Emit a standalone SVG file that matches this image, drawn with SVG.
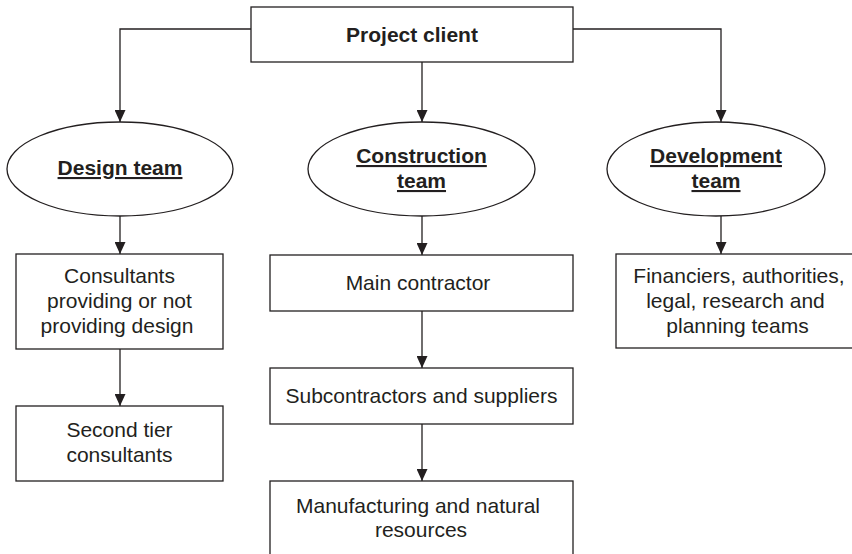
<svg xmlns="http://www.w3.org/2000/svg" width="852" height="554" viewBox="0 0 852 554">
<style>
  .box{fill:#fff;stroke:#231f20;stroke-width:1.3}
  .ell{fill:#fff;stroke:#231f20;stroke-width:1.3}
  .t{font-family:"Liberation Sans",Arial,Helvetica,sans-serif;font-size:21px;fill:#231f20;text-anchor:middle}
  .b{font-weight:bold}
  .u{text-decoration:underline}
  .c{fill:none;stroke:#231f20;stroke-width:1.3;marker-end:url(#ah)}
</style>
<defs>
  <marker id="ah" viewBox="0 0 12 11" markerWidth="12" markerHeight="11" refX="12" refY="5.5" orient="auto" markerUnits="userSpaceOnUse">
    <path d="M0,0 L12,5.5 L0,11 z" fill="#231f20"/>
  </marker>
</defs>
<rect width="852" height="554" fill="#fff"/>
<g id="connectors">
  <path class="c" d="M251,29 H120 V122"/>
  <path class="c" d="M422,62 V122"/>
  <path class="c" d="M573,29 H721 V122"/>
  <path class="c" d="M120,216 V254"/>
  <path class="c" d="M422,216 V255"/>
  <path class="c" d="M721,216 V254"/>
  <path class="c" d="M120,349 V406"/>
  <path class="c" d="M422,311 V368"/>
  <path class="c" d="M422,424 V481"/>
</g>
<g id="project-client">
  <rect class="box" x="251" y="7" width="322" height="55"/>
  <text class="t b" x="412" y="42">Project client</text>
</g>
<g id="design-team">
  <ellipse class="ell" cx="120" cy="169" rx="113" ry="47"/>
  <text class="t b u" x="120" y="175">Design team</text>
</g>
<g id="construction-team">
  <ellipse class="ell" cx="421.5" cy="169" rx="113.5" ry="47"/>
  <text class="t b u" x="421.5" y="163">Construction</text>
  <text class="t b u" x="421.5" y="188">team</text>
</g>
<g id="development-team">
  <ellipse class="ell" cx="716" cy="169" rx="109" ry="47"/>
  <text class="t b u" x="716" y="163">Development</text>
  <text class="t b u" x="716" y="188">team</text>
</g>
<g id="consultants">
  <rect class="box" x="16" y="254" width="207" height="95"/>
  <text class="t" x="119.5" y="283">Consultants</text>
  <text class="t" x="119.5" y="308">providing or not</text>
  <text class="t" x="117" y="333">providing design</text>
</g>
<g id="second-tier">
  <rect class="box" x="16" y="406" width="207" height="75"/>
  <text class="t" x="119.5" y="437">Second tier</text>
  <text class="t" x="119.5" y="462">consultants</text>
</g>
<g id="main-contractor">
  <rect class="box" x="270" y="255" width="303" height="56"/>
  <text class="t" x="418" y="290">Main contractor</text>
</g>
<g id="subcontractors">
  <rect class="box" x="270" y="368" width="303" height="56"/>
  <text class="t" x="421.5" y="403">Subcontractors and suppliers</text>
</g>
<g id="manufacturing">
  <rect class="box" x="270" y="481" width="303" height="100"/>
  <text class="t" x="418" y="513">Manufacturing and natural</text>
  <text class="t" x="421" y="537">resources</text>
</g>
<g id="financiers">
  <rect class="box" x="616" y="254" width="250" height="94"/>
  <text class="t" x="739" y="283">Financiers, authorities,</text>
  <text class="t" x="735.5" y="308">legal, research and</text>
  <text class="t" x="737.5" y="333">planning teams</text>
</g>
</svg>
